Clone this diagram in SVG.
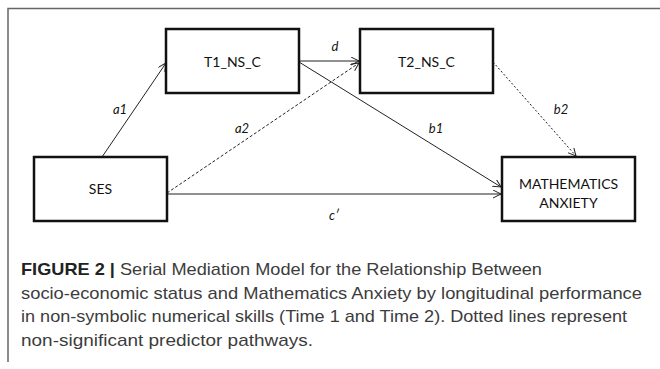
<svg xmlns="http://www.w3.org/2000/svg" width="660" height="369" viewBox="0 0 660 369">
<defs>
<marker id="arr" markerUnits="userSpaceOnUse" markerWidth="10" markerHeight="10" refX="8" refY="4" orient="auto">
<path d="M0,0 L8,4 L0,8" fill="none" stroke="#222" stroke-width="1"/>
</marker>
<style>
.box{fill:#fff;stroke:#111;stroke-width:2.5}
.nt{font-family:Lato,"Liberation Sans",sans-serif;font-size:14px;fill:#111;text-anchor:middle}
.lb{font-family:Lato,"Liberation Sans",sans-serif;font-size:13px;font-style:italic;fill:#111;text-anchor:middle}
.ln{fill:none;stroke:#222;stroke-width:1}
.dash{stroke-dasharray:3,2}
.dot{stroke-dasharray:2,2}
.cap{font-family:"Liberation Sans",Arial,sans-serif;font-size:17px;fill:#3c3c3c}
.capb{font-weight:bold;fill:#222}
</style>
</defs>
<rect width="660" height="369" fill="#fff"/>
<path d="M8,362 V8.5 H660" fill="none" stroke="#666" stroke-width="1.5"/>
<g id="connectors">
<line class="ln" x1="102" y1="157" x2="166" y2="63" marker-end="url(#arr)"/>
<line class="ln" x1="299" y1="61" x2="359" y2="61" marker-end="url(#arr)"/>
<line class="ln" x1="299" y1="62" x2="501" y2="187" marker-end="url(#arr)"/>
<line class="ln dash" x1="167" y1="193" x2="359" y2="63" marker-end="url(#arr)"/>
<line class="ln" x1="167" y1="194" x2="501" y2="194" marker-end="url(#arr)"/>
<line class="ln dot" x1="493" y1="62" x2="576" y2="156" marker-end="url(#arr)"/>
<text class="lb" x="120" y="114">a1</text>
<text class="lb" x="335" y="51">d</text>
<text class="lb" x="242" y="133">a2</text>
<text class="lb" x="436" y="133">b1</text>
<text class="lb" x="561" y="114">b2</text>
<text class="lb" x="334" y="220">c′</text>
</g>
<g id="T1">
<rect class="box" x="166" y="29" width="133" height="64"/>
<text class="nt" x="232.5" y="67">T1_NS_C</text>
</g>
<g id="T2">
<rect class="box" x="360" y="29" width="133" height="64"/>
<text class="nt" x="426.5" y="67">T2_NS_C</text>
</g>
<g id="SES">
<rect class="box" x="34" y="157" width="133" height="64"/>
<text class="nt" x="100.5" y="194">SES</text>
</g>
<g id="MA">
<rect class="box" x="502" y="157" width="133" height="64"/>
<text class="nt" x="568.5" y="189">MATHEMATICS</text>
<text class="nt" x="568.5" y="208">ANXIETY</text>
</g>
<g id="caption">
<text class="cap" x="21" y="275" textLength="521" lengthAdjust="spacingAndGlyphs"><tspan class="capb">FIGURE 2 |</tspan> Serial Mediation Model for the Relationship Between</text>
<text class="cap" x="21" y="298.5" textLength="621" lengthAdjust="spacingAndGlyphs">socio-economic status and Mathematics Anxiety by longitudinal performance</text>
<text class="cap" x="21" y="322" textLength="606" lengthAdjust="spacingAndGlyphs">in non-symbolic numerical skills (Time 1 and Time 2). Dotted lines represent</text>
<text class="cap" x="21" y="345.5" textLength="292" lengthAdjust="spacingAndGlyphs">non-significant predictor pathways.</text>
</g>
</svg>
